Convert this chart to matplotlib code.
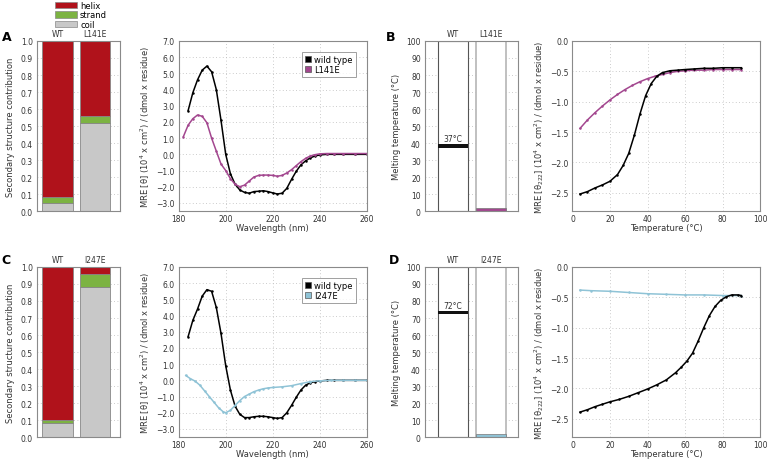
import numpy as np
import matplotlib.pyplot as plt
from matplotlib.patches import Patch

plt.rcParams['font.family'] = ['DejaVu Sans']
plt.rcParams['axes.unicode_minus'] = True

RED = '#b0121b'
GREEN = '#7cb342'
GREY = '#c8c8c8'
PURPLE = '#a3478f'
BLUE = '#8fc3d6'
SPINE = '#8a8a8a'

# secondary structure fractions (coil, strand, helix)
ss_labels_A = ['WT', 'L141E']
coil_A = [0.05, 0.52]
strand_A = [0.03, 0.04]
helix_A = [0.92, 0.44]

ss_labels_C = ['WT', 'I247E']
coil_C = [0.08, 0.88]
strand_C = [0.02, 0.08]
helix_C = [0.90, 0.04]

# CD spectra, panel A
wl_wt_A = [184, 186, 188, 190, 192, 194, 196, 198, 200, 202, 204, 206, 208, 210,
           212, 214, 216, 218, 220, 222, 224, 226, 228, 230, 232, 234, 236, 238,
           240, 243, 246, 250, 255, 260]
mre_wt_A = [2.7, 3.8, 4.6, 5.2, 5.45, 5.1, 4.0, 2.1, 0.0, -1.2, -1.85, -2.2, -2.35, -2.4,
            -2.3, -2.28, -2.25, -2.3, -2.38, -2.45, -2.4, -2.1, -1.55, -1.05, -0.65, -0.4,
            -0.22, -0.1, -0.04, 0.0, 0.0, 0.0, 0.0, 0.0]
wl_mut_A = [182, 184, 186, 188, 190, 192, 194, 196, 198, 200, 202, 204, 206, 208, 210,
            212, 214, 216, 218, 220, 222, 224, 226, 228, 230, 232, 234, 236, 238, 240,
            243, 246, 250, 255, 260]
mre_mut_A = [1.1, 1.8, 2.2, 2.43, 2.35, 1.95, 1.0, 0.2, -0.6, -1.0, -1.5, -1.85, -2.0, -1.9,
             -1.65, -1.4, -1.3, -1.28, -1.28, -1.3, -1.35, -1.3, -1.15, -0.95, -0.7, -0.45,
             -0.25, -0.1, -0.02, 0.03, 0.05, 0.05, 0.05, 0.05, 0.05]

# CD spectra, panel C
wl_wt_C = [184, 186, 188, 190, 192, 194, 196, 198, 200, 202, 204, 206, 208, 210,
           212, 214, 216, 218, 220, 222, 224, 226, 228, 230, 232, 234, 236, 238,
           240, 243, 246, 250, 255, 260]
mre_wt_C = [2.7, 3.7, 4.4, 5.2, 5.6, 5.5, 4.5, 2.9, 0.9, -0.6, -1.6, -2.1, -2.3, -2.3,
            -2.25, -2.22, -2.22, -2.25, -2.3, -2.35, -2.3, -2.0, -1.55, -1.05, -0.6, -0.3,
            -0.15, -0.08, -0.04, 0.0, 0.0, 0.0, 0.0, 0.0]
wl_mut_C = [183, 185, 187, 189, 191, 193, 195, 197, 199, 200, 202, 204, 206, 208, 210,
            212, 214, 216, 218, 220, 224, 228, 232, 236, 240, 245, 250, 255, 260]
mre_mut_C = [0.3, 0.1, -0.05, -0.3, -0.65, -1.0, -1.35, -1.7, -1.95, -2.0, -1.85, -1.55,
             -1.25, -1.0, -0.85, -0.7, -0.6, -0.52, -0.47, -0.44, -0.4, -0.33, -0.2, -0.08,
             -0.03, 0.0, 0.0, 0.0, 0.0]

# melting temperatures
tm_labels_B = ['WT', 'L141E']
tm_B = [38.3, 1.0]
tm_text_B = '37°C'
tm_labels_D = ['WT', 'I247E']
tm_D = [73.1, 1.0]
tm_text_D = '72°C'

# thermal melts
temp_wt_B = [4, 8, 12, 16, 20, 24, 27, 30, 33, 36, 39, 42, 45, 48, 52, 56, 60, 65, 70, 75, 80, 85, 90]
mre_wt_B = [-2.52, -2.48, -2.42, -2.37, -2.31, -2.2, -2.05, -1.85, -1.55, -1.2, -0.9, -0.7,
            -0.58, -0.52, -0.49, -0.48, -0.47, -0.46, -0.45, -0.45, -0.44, -0.44, -0.44]
temp_mut_B = [4, 8, 12, 16, 20, 24, 28, 32, 36, 40, 44, 48, 52, 56, 60, 65, 70, 75, 80, 85, 90]
mre_mut_B = [-1.44, -1.3, -1.18, -1.07, -0.97, -0.88, -0.8, -0.73, -0.67, -0.62, -0.58,
             -0.55, -0.52, -0.5, -0.49, -0.48, -0.48, -0.47, -0.47, -0.47, -0.47]

temp_wt_D = [4, 8, 12, 16, 20, 25, 30, 35, 40, 45, 50, 55, 58, 61, 64, 67, 70, 73, 76, 79, 82, 85, 88, 90]
mre_wt_D = [-2.39, -2.35, -2.3, -2.26, -2.22, -2.18, -2.13, -2.07, -2.01, -1.94, -1.86, -1.74,
            -1.65, -1.55, -1.42, -1.22, -1.0, -0.8, -0.65, -0.55, -0.49, -0.46, -0.46, -0.47]
temp_mut_D = [4, 10, 20, 30, 40, 50, 60, 70, 80, 90]
mre_mut_D = [-0.38, -0.39, -0.4, -0.42, -0.44, -0.45, -0.46, -0.46, -0.47, -0.47]


def style_axes(ax):
    for sp in ax.spines.values():
        sp.set_color(SPINE)
        sp.set_linewidth(0.8)
    ax.tick_params(labelsize=5.5, colors='#333333', length=0, pad=3)
    ax.tick_params(axis='x', pad=2)
    ax.grid(True, ls=(0, (1, 3)), color='#bbbbbb', lw=0.6)
    ax.set_axisbelow(True)


def ss_panel(ax, labels, coil, strand, helix):
    x = np.arange(1, len(labels) + 1)
    coil = np.array(coil)
    strand = np.array(strand)
    ax.bar(x, coil, 0.82, color=GREY, edgecolor='#888888', lw=0.6)
    ax.bar(x, strand, 0.82, bottom=coil, color=GREEN, edgecolor='#888888', lw=0.6)
    ax.bar(x, helix, 0.82, bottom=coil + strand, color=RED, edgecolor='#888888', lw=0.6)
    style_axes(ax)
    ax.grid(False, axis='x')
    ax.set_xlim(0.45, 2.67)
    ax.set_ylim(0, 1)
    ax.set_yticks(np.arange(0, 1.01, 0.1))
    ax.set_yticklabels(['%.1f' % v for v in np.arange(0, 1.01, 0.1)])
    ax.set_xticks(x)
    ax.set_xticklabels(labels)
    ax.tick_params(axis='x', top=True, labeltop=True, bottom=False, labelbottom=False, pad=2)
    ax.set_ylabel('Secondary structure contribution', fontsize=6, color='#333333', labelpad=4)


def cd_panel(ax, wl1, v1, wl2, v2, color, name):
    ax.plot(wl1, v1, color='black', lw=1.1, marker='.', ms=1.6, label='wild type')
    ax.plot(wl2, v2, color=color, lw=1.1, marker='.', ms=1.6, label=name)
    style_axes(ax)
    ax.set_xlim(180, 260)
    ax.set_ylim(-3.5, 7)
    ax.set_xticks([180, 200, 220, 240, 260])
    yt = np.arange(-3, 7.1, 1.0)
    ax.set_yticks(yt)
    ax.set_yticklabels(['%.1f' % v if v >= 0 else '\u2212%.1f' % -v for v in yt])
    ax.set_xlabel('Wavelength (nm)', fontsize=6, color='#333333', labelpad=0)
    ax.set_ylabel('MRE [θ] (10$^4$ x cm$^2$) / (dmol x residue)', fontsize=6,
                  color='#333333', labelpad=3)
    handles = [Patch(facecolor='black', edgecolor='#555555', lw=0.5),
               Patch(facecolor=color, edgecolor='#555555', lw=0.5)]
    leg = ax.legend(handles, ['wild type', name], loc='upper right', fontsize=6,
                    handlelength=0.7, handleheight=0.7, handletextpad=0.4,
                    borderpad=0.4, labelspacing=0.1, fancybox=False,
                    bbox_to_anchor=(0.965, 0.96))
    leg.get_frame().set_edgecolor('#888888')
    leg.get_frame().set_linewidth(0.7)


def tm_panel(ax, labels, tm, text, color):
    x = np.arange(1, len(labels) + 1)
    ax.bar(x[0], 100, 0.79, color='white', edgecolor='#555555', lw=0.8)
    ax.bar(x[1], 100, 0.79, color='white', edgecolor='#b5b5b5', lw=1.2)
    ax.bar(x[0], 1.9, 0.79, bottom=tm[0] - 0.95, color='#111111', lw=0)
    ax.bar(x[1], 2 * tm[1], 0.79, color=color, edgecolor='#777777', lw=0.5)
    ax.text(x[0], tm[0] + 1.6, text, ha='center', va='bottom', fontsize=5.5, color='#333333')
    style_axes(ax)
    ax.grid(False, axis='x')
    ax.set_xlim(0.263, 2.71)
    ax.set_ylim(0, 100)
    ax.set_yticks(np.arange(0, 101, 10))
    ax.set_xticks(x)
    ax.set_xticklabels(labels)
    ax.tick_params(axis='x', top=True, labeltop=True, bottom=False, labelbottom=False, pad=2)
    ax.set_ylabel('Melting temperature (°C)', fontsize=6, color='#333333', labelpad=4)


def melt_panel(ax, t1, v1, t2, v2, color):
    ax.plot(t2, v2, color=color, lw=1.1, marker='.', ms=1.6)
    ax.plot(t1, v1, color='black', lw=1.1, marker='.', ms=1.6)
    style_axes(ax)
    ax.set_xlim(0, 100)
    ax.set_ylim(-2.8, 0)
    ax.set_xticks(np.arange(0, 101, 20))
    yt = [0.0, -0.5, -1.0, -1.5, -2.0, -2.5]
    ax.set_yticks(yt)
    ax.set_yticklabels(['%.1f' % v if v >= 0 else '\u2212%.1f' % -v for v in yt])
    ax.set_xlabel('Temperature (°C)', fontsize=6, color='#333333', labelpad=0)
    ax.set_ylabel('MRE [θ$_{222}$] (10$^4$ x cm$^2$) / (dmol x residue)', fontsize=6,
                  color='#333333', labelpad=3)


fig = plt.figure(figsize=(7.67, 4.6), dpi=100)
H = 0.3696
rows = [0.5391, 0.0478]
lefts = [0.0482, 0.233, 0.5541, 0.7464]
widths = [0.1082, 0.2451, 0.1213, 0.2445]

axA1 = fig.add_axes([lefts[0], rows[0], widths[0], H])
axA2 = fig.add_axes([lefts[1], rows[0], widths[1], H])
axB1 = fig.add_axes([lefts[2], rows[0], widths[2], H])
axB2 = fig.add_axes([lefts[3], rows[0], widths[3], H])
axC1 = fig.add_axes([lefts[0], rows[1], widths[0], H])
axC2 = fig.add_axes([lefts[1], rows[1], widths[1], H])
axD1 = fig.add_axes([lefts[2], rows[1], widths[2], H])
axD2 = fig.add_axes([lefts[3], rows[1], widths[3], H])

ss_panel(axA1, ss_labels_A, coil_A, strand_A, helix_A)
ss_panel(axC1, ss_labels_C, coil_C, strand_C, helix_C)
cd_panel(axA2, wl_wt_A, mre_wt_A, wl_mut_A, mre_mut_A, PURPLE, 'L141E')
cd_panel(axC2, wl_wt_C, mre_wt_C, wl_mut_C, mre_mut_C, BLUE, 'I247E')
tm_panel(axB1, tm_labels_B, tm_B, tm_text_B, PURPLE)
tm_panel(axD1, tm_labels_D, tm_D, tm_text_D, BLUE)
melt_panel(axB2, temp_wt_B, mre_wt_B, temp_mut_B, mre_mut_B, PURPLE)
melt_panel(axD2, temp_wt_D, mre_wt_D, temp_mut_D, mre_mut_D, BLUE)

# structure legend above panel A
ss_handles = [Patch(facecolor=RED, edgecolor='#888888', lw=0.5),
              Patch(facecolor=GREEN, edgecolor='#888888', lw=0.5),
              Patch(facecolor=GREY, edgecolor='#888888', lw=0.5)]
fig.legend(ss_handles, ['helix', 'strand', 'coil'], loc='upper left',
           bbox_to_anchor=(0.062, 1.012), fontsize=6, frameon=False,
           handlelength=2.6, handleheight=0.75, handletextpad=0.4, labelspacing=0.05)

for lab, x, y in [('A', 0.002, 0.91), ('B', 0.503, 0.91), ('C', 0.002, 0.425), ('D', 0.507, 0.425)]:
    fig.text(x, y, lab, fontsize=9, fontweight='bold')

fig.savefig('out.png', dpi=100)
